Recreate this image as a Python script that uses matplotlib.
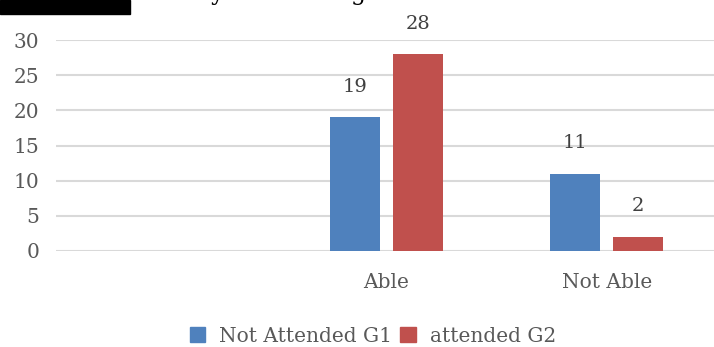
import numpy as np
import matplotlib.pyplot as plt
from matplotlib.patches import Rectangle

# --- data ---
categories = ["", "Able", "Not Able"]
not_attended_g1 = [None, 19, 11]
attended_g2 = [None, 28, 2]
series_names = ["Not Attended G1", "attended G2"]
y_ticks = [0, 5, 10, 15, 20, 25, 30]

BLUE = "#4F81BD"
RED = "#C0504D"
TXT = "#595959"
GRID = "#D9D9D9"
FONT = "DejaVu Serif"

W, H = 714, 347
fig = plt.figure(figsize=(W / 100, H / 100), dpi=100)

# axes placed in pixel terms
left, right, top, bottom = 56, 714, 40, 251
ax = fig.add_axes([left / W, (H - bottom) / H, (right - left) / W, (bottom - top) / H])

x = np.arange(len(categories))
bw = 0.227
off = 0.143

for i in range(len(categories)):
    for vals, dx, col in ((not_attended_g1, -off, BLUE), (attended_g2, off, RED)):
        v = vals[i]
        if v is None:
            continue
        ax.bar(x[i] + dx, v, width=bw, color=col, zorder=3)
        ax.annotate(str(v), (x[i] + dx, v), xytext=(0, 22), textcoords="offset points",
                    ha="center", va="center", fontsize=14, color="#404040",
                    family=FONT, annotation_clip=False)

ax.set_xlim(-0.5, 2.5 - 3 / 220.5)
ax.set_ylim(0, 30)
ax.set_yticks(y_ticks)
ax.set_xticks(x)
ax.set_xticklabels(categories)
ax.yaxis.grid(True, color=GRID, linewidth=1.5, zorder=0)
for s in ax.spines.values():
    s.set_visible(False)
ax.tick_params(length=0, labelcolor=TXT, labelsize=14.5)
ax.tick_params(axis="y", pad=12)
ax.tick_params(axis="x", pad=16)
for lab in ax.get_xticklabels() + ax.get_yticklabels():
    lab.set_family(FONT)

# legend
handles = [Rectangle((0, 0), 1, 1, color=BLUE), Rectangle((0, 0), 1, 1, color=RED)]
leg = fig.legend(handles, series_names, loc="center", bbox_to_anchor=(373 / W, 1 - 336 / H),
                 ncol=2, frameon=False, prop={"family": FONT, "size": 14.5},
                 handlelength=0.75, handleheight=0.75, handletextpad=0.7, columnspacing=0.4,
                 borderpad=0)
for t in leg.get_texts():
    t.set_color(TXT)

# cropped document header remnants
fig.patches.append(Rectangle((0, 1 - 14 / H), 130 / W, 14 / H, transform=fig.transFigure,
                             color="black", zorder=5))
fig.text(211 / W, 1.0, "y", family=FONT, fontsize=17, va="baseline", color="black")
fig.text(351 / W, 1.0, "g", family=FONT, fontsize=17, va="baseline", color="black")

fig.savefig("out.png", dpi=100)
